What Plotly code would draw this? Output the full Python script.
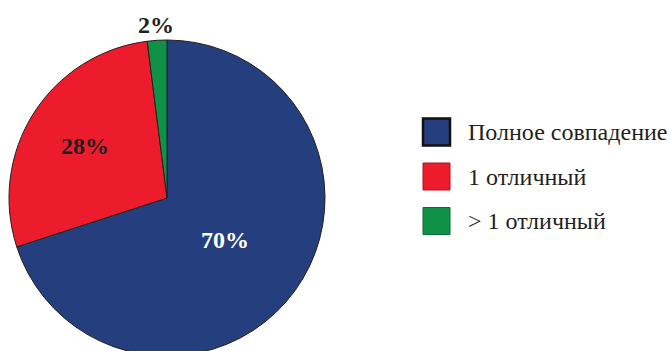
import math
import plotly.graph_objects as go

# Share of matches by number of differences
categories = ["Полное совпадение", "1 отличный", "> 1 отличный"]
values = [70, 28, 2]
colors = ["#253e7e", "#ec1c2d", "#0f9247"]
edge_colors = ["#111111", "#a8141f", "#0a6b34"]
edge_widths = [2.5, 1, 1]
label_colors = ["#ffffff", "#231f20", "#231f20"]
label_radius = [0.457, 0.611, 1.10]  # label distance from centre, in pie radii

SERIF = "Times New Roman, Liberation Serif, DejaVu Serif, serif"
W, H = 672, 360  # canvas slightly taller than the viewport so the pie runs off the bottom

# pie geometry in pixels
CX, CY, R = 167, 198, 158


def px_x(x):
    return x / W


def px_y(y):
    return (H - y) / H


fig = go.Figure()
fig.add_trace(go.Pie(
    labels=categories,
    values=values,
    sort=False,
    direction="clockwise",
    rotation=0,
    marker=dict(colors=colors, line=dict(color="#231f20", width=1)),
    textinfo="none",
    showlegend=False,
    hoverinfo="label+percent",
    domain=dict(x=[px_x(CX - R), px_x(CX + R)], y=[px_y(CY + R), px_y(CY - R)]),
))

shapes, annotations = [], []

# Percentage labels placed along each slice's mid-angle
total = sum(values)
cum = 0
for v, col, rf in zip(values, label_colors, label_radius):
    theta = 2 * math.pi * (cum + v / 2) / total
    cum += v
    x = CX + rf * R * math.sin(theta)
    y = CY - rf * R * math.cos(theta)
    annotations.append(dict(
        text=f"<b>{round(100 * v / total)}%</b>", xref="paper", yref="paper",
        x=px_x(x), y=px_y(y), xanchor="center", yanchor="middle", showarrow=False,
        font=dict(family=SERIF, size=24, color=col),
    ))

# Legend drawn by hand: large bordered swatches with serif captions
sw_x0, sw_size, sw_top, sw_step = 423, 27, 118.5, 44.5
for i, (name, col) in enumerate(zip(categories, colors)):
    y0 = sw_top + i * sw_step
    shapes.append(dict(
        type="rect", xref="paper", yref="paper",
        x0=px_x(sw_x0), x1=px_x(sw_x0 + sw_size),
        y0=px_y(y0 + sw_size), y1=px_y(y0),
        fillcolor=col, line=dict(color=edge_colors[i], width=edge_widths[i]),
    ))
    annotations.append(dict(
        text=name, xref="paper", yref="paper",
        x=px_x(466), y=px_y(y0 + sw_size / 2),
        xanchor="left", yanchor="middle", showarrow=False,
        font=dict(family=SERIF, size=24, color="#231f20"),
    ))

fig.update_layout(
    width=W, height=H,
    margin=dict(l=0, r=0, t=0, b=0),
    paper_bgcolor="white", plot_bgcolor="white",
    font=dict(family=SERIF),
    shapes=shapes, annotations=annotations,
)

fig.write_html(
    "out.html",
    post_script="document.documentElement.style.overflow='hidden';document.body.style.overflow='hidden';",
)
